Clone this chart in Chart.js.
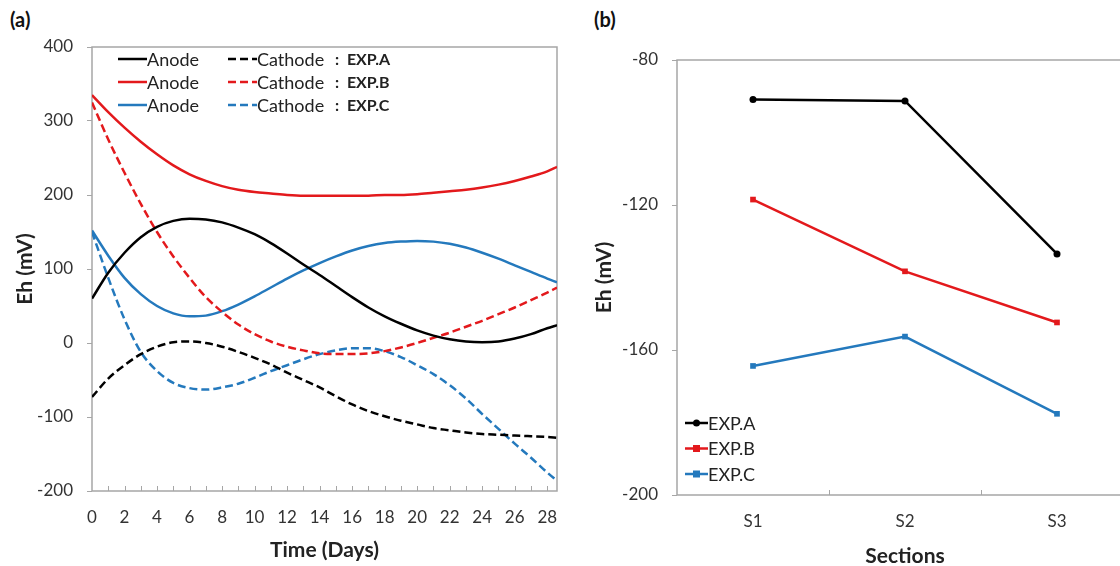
<!DOCTYPE html>
<html>
<head>
<meta charset="utf-8">
<script src="https://cdn.jsdelivr.net/npm/chart.js@4.4.1/dist/chart.umd.min.js"></script>
<style>
  html, body { margin: 0; padding: 0; background: #fff; overflow: hidden; }
  body { width: 1120px; height: 566px; position: relative; }
  .box { position: absolute; top: 0; }
  #boxA { left: 0; width: 575px; height: 566px; }
  #boxB { left: 575px; width: 570px; height: 572px; }
  .tag { position: absolute; top: 7px; font: bold 20px Lato, sans-serif; color: #111; }
</style>
</head>
<body>
<div class="tag" style="left:10px">(a)</div>
<div class="tag" style="left:594px">(b)</div>
<div class="box" id="boxA"><canvas id="chartA"></canvas></div>
<div class="box" id="boxB"><canvas id="chartB"></canvas></div>
<script>
// ---- data: panel (a), Eh over time ----
const days = [0,1,2,3,4,5,6,7,8,9,10,11,12,13,14,15,16,17,18,19,20,21,22,23,24,25,26,27,28,28.6];
const anodeA   = [60,95,122,143,157,165,168,167,163,156,147,135,121,106,92,77,62,48,36,26,17,10,5,2,1,2,6,12,20,24];
const cathodeA = [-73,-48,-30,-15,-5,1,2,0,-5,-12,-20,-29,-40,-50,-60,-72,-83,-92,-99,-105,-110,-115,-118,-121,-123,-124,-125,-126,-127,-128];
const anodeB   = [335,312,291,272,255,240,228,219,212,207,204,202,200,199,199,199,199,199,200,200,201,203,205,207,210,214,219,225,232,238];
const cathodeB = [325,275,230,188,150,117,88,62,42,25,12,2,-5,-10,-14,-15,-15,-14,-11,-6,0,7,14,22,30,39,48,58,68,75];
const anodeC   = [152,118,88,66,50,40,36,37,43,52,63,75,87,98,108,117,125,131,135,137,138,137,134,129,122,114,105,96,87,82];
const cathodeC = [150,88,32,-12,-38,-54,-61,-63,-60,-55,-47,-38,-30,-22,-15,-10,-7,-7,-11,-19,-30,-42,-57,-75,-96,-116,-136,-155,-175,-186];
const dayTicks = [0,2,4,6,8,10,12,14,16,18,20,22,24,26,28];

// ---- data: panel (b), Eh per section ----
const sections = ['S1', 'S2', 'S3'];
const expA = [-90.9, -91.3, -133.5];
const expB = [-118.5, -138.3, -152.4];
const expC = [-164.4, -156.3, -177.6];

const expNames = ['EXP.A', 'EXP.B', 'EXP.C'];
const electrodes = ['Anode', 'Cathode'];
const colors = ['#000000', '#e3191c', '#2479bd'];

const FONT = 'Lato, "Open Sans", sans-serif';
const AXIS = '#a6a6a6';
Chart.defaults.font.family = FONT;
Chart.defaults.color = '#333';

const pts = ys => ys.map((y, i) => ({ x: days[i], y }));

// box around the plot plus small inward ticks on the bottom axis
const frame = {
  id: 'frame',
  beforeDatasetsDraw(chart, args, opts) {
    const { ctx, chartArea: a } = chart;
    ctx.save();
    ctx.strokeStyle = AXIS;
    ctx.lineWidth = 1.5;
    ctx.strokeRect(a.left, a.top, a.right - a.left, a.bottom - a.top);
    ctx.beginPath();
    for (const px of opts.ticksAt(chart)) {
      ctx.moveTo(Math.round(px) + 0.5, a.bottom);
      ctx.lineTo(Math.round(px) + 0.5, a.bottom - 5);
    }
    ctx.lineWidth = 1;
    ctx.stroke();
    ctx.restore();
  }
};

// two-column legend: Anode / Cathode per experiment
const pairLegend = {
  id: 'pairLegend',
  afterDatasetsDraw(chart, args, opts) {
    if (!opts.show) return;
    const { ctx } = chart;
    const ds = chart.data.datasets;
    ctx.save();
    ctx.textBaseline = 'middle';
    expNames.forEach((name, i) => {
      const y = opts.top + i * opts.gap;
      [ds[2 * i], ds[2 * i + 1]].forEach((d, j) => {
        const x0 = opts.cols[j];
        ctx.strokeStyle = d.borderColor;
        ctx.lineWidth = d.borderWidth;
        ctx.setLineDash(d.borderDash || []);
        ctx.beginPath();
        ctx.moveTo(x0, y);
        ctx.lineTo(x0 + 29, y);
        ctx.stroke();
        ctx.setLineDash([]);
        ctx.fillStyle = '#222';
        ctx.font = '18px ' + FONT;
        ctx.fillText(electrodes[j], x0 + 29, y + 1);
      });
      ctx.font = 'bold 16px ' + FONT;
      ctx.fillText(':  ' + name, opts.tagX, y + 1);
    });
    ctx.restore();
  }
};

// single-column legend with marker on the line
const markLegend = {
  id: 'markLegend',
  afterDatasetsDraw(chart, args, opts) {
    if (!opts.show) return;
    const { ctx } = chart;
    ctx.save();
    ctx.textBaseline = 'middle';
    chart.data.datasets.forEach((d, i) => {
      const y = opts.top + i * opts.gap;
      const x0 = opts.left;
      ctx.strokeStyle = d.borderColor;
      ctx.fillStyle = d.borderColor;
      ctx.lineWidth = d.borderWidth;
      ctx.beginPath();
      ctx.moveTo(x0, y);
      ctx.lineTo(x0 + 23, y);
      ctx.stroke();
      const cx = x0 + 11.5;
      if (d.pointStyle === 'rect') {
        ctx.fillRect(cx - 3.5, y - 3.5, 7, 7);
      } else {
        ctx.beginPath();
        ctx.arc(cx, y, 3.5, 0, Math.PI * 2);
        ctx.fill();
      }
      ctx.fillStyle = '#222';
      ctx.font = '18px ' + FONT;
      ctx.fillText(d.label, x0 + 23, y + 1);
    });
    ctx.restore();
  }
};

const yTitle = (pad) => ({
  display: true, text: 'Eh (mV)', color: '#222',
  font: { size: 21, weight: 'bold' }, padding: { top: pad, bottom: 0 }
});

// ---- panel (a) ----
const lineSet = (label, data, color, dashed) => ({
  label, data: pts(data), borderColor: color, backgroundColor: color,
  borderWidth: 2.5, borderDash: dashed ? [8, 4] : [], pointRadius: 0,
  tension: 0.4, cubicInterpolationMode: 'monotone', fill: false
});

new Chart(document.getElementById('chartA'), {
  type: 'line',
  data: {
    datasets: [
      lineSet('Anode EXP.A', anodeA, colors[0], false),
      lineSet('Cathode EXP.A', cathodeA, colors[0], true),
      lineSet('Anode EXP.B', anodeB, colors[1], false),
      lineSet('Cathode EXP.B', cathodeB, colors[1], true),
      lineSet('Anode EXP.C', anodeC, colors[2], false),
      lineSet('Cathode EXP.C', cathodeC, colors[2], true)
    ]
  },
  options: {
    responsive: true, maintainAspectRatio: false, animation: false,
    layout: { padding: { top: 47, right: 18, bottom: 0, left: 0 } },
    plugins: {
      legend: { display: false }, tooltip: { enabled: false },
      frame: { ticksAt: c => days.slice(1, 29).map(d => c.scales.x.getPixelForValue(d)) },
      pairLegend: { show: true, top: 59, gap: 23, cols: [118, 228], tagX: 335 },
      markLegend: { show: false }
    },
    scales: {
      x: {
        type: 'linear', min: 0, max: 28.6,
        afterFit: s => { s.height = 75; },
        afterBuildTicks: s => { s.ticks = dayTicks.map(v => ({ value: v })); },
        ticks: { autoSkip: false, maxRotation: 0, padding: 8, font: { size: 17 } },
        grid: { display: false }, border: { display: false },
        title: { display: true, text: 'Time (Days)', color: '#222', font: { size: 21, weight: 'bold' }, padding: { top: 0, bottom: 3 } }
      },
      y: {
        min: -200, max: 400,
        afterFit: s => { s.width = 92; },
        ticks: { stepSize: 100, padding: 14, font: { size: 17 } },
        grid: { drawOnChartArea: false, drawTicks: true, tickLength: 5, color: AXIS },
        border: { display: false },
        title: yTitle(13)
      }
    }
  },
  plugins: [frame, pairLegend, markLegend]
});

// ---- panel (b) ----
const secSet = (label, data, color, style) => ({
  label, data, borderColor: color, backgroundColor: color, borderWidth: 2.5,
  pointStyle: style, pointRadius: style === 'rect' ? 4 : 3.5, pointBorderWidth: 0,
  tension: 0, fill: false
});

new Chart(document.getElementById('chartB'), {
  type: 'line',
  data: {
    labels: sections,
    datasets: [
      secSet(expNames[0], expA, colors[0], 'circle'),
      secSet(expNames[1], expB, colors[1], 'rect'),
      secSet(expNames[2], expC, colors[2], 'rect')
    ]
  },
  options: {
    responsive: true, maintainAspectRatio: false, animation: false,
    layout: { padding: { top: 60, right: 12, bottom: 0, left: 0 } },
    plugins: {
      legend: { display: false }, tooltip: { enabled: false },
      frame: {
        ticksAt: c => [0, 1].map(i => (c.scales.x.getPixelForValue(i) + c.scales.x.getPixelForValue(i + 1)) / 2)
      },
      pairLegend: { show: false },
      markLegend: { show: true, top: 423, gap: 25.5, left: 110 }
    },
    scales: {
      x: {
        offset: true,
        afterFit: s => { s.height = 77; },
        ticks: { padding: 8, font: { size: 17 } },
        grid: { display: false }, border: { display: false },
        title: { display: true, text: 'Sections', color: '#222', font: { size: 21, weight: 'bold' }, padding: { top: 0, bottom: 3 } }
      },
      y: {
        min: -200, max: -80,
        afterFit: s => { s.width = 102; },
        ticks: { stepSize: 40, padding: 14, font: { size: 17 } },
        grid: { drawOnChartArea: false, drawTicks: true, tickLength: 5, color: AXIS },
        border: { display: false },
        title: yTitle(17)
      }
    }
  },
  plugins: [frame, pairLegend, markLegend]
});
</script>
</body>
</html>
